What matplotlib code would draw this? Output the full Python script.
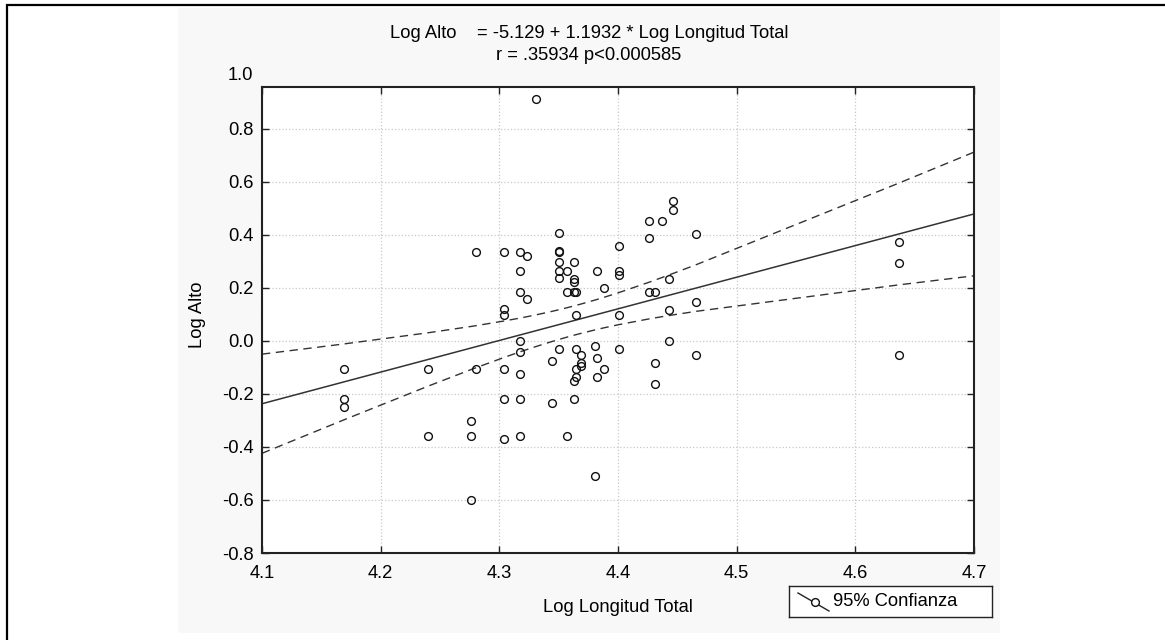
import matplotlib
matplotlib.use("Agg")
import matplotlib.pyplot as plt
import numpy as np
from matplotlib.patches import Rectangle

plt.rcParams['font.family'] = ['Liberation Sans', 'DejaVu Sans']

# Log Longitud Total / Log Alto
log_longitud = [4.169, 4.169, 4.169, 4.240, 4.240, 4.276, 4.276, 4.276, 4.280, 4.280,
                4.304, 4.304, 4.304, 4.304, 4.304, 4.304, 4.317, 4.317, 4.317, 4.317,
                4.317, 4.317, 4.317, 4.317, 4.323, 4.323, 4.331, 4.344, 4.344, 4.350,
                4.350, 4.350, 4.350, 4.350, 4.350, 4.350, 4.357, 4.357, 4.357, 4.363,
                4.363, 4.363, 4.363, 4.363, 4.363, 4.365, 4.365, 4.365, 4.365, 4.365,
                4.369, 4.369, 4.369, 4.381, 4.381, 4.382, 4.382, 4.382, 4.388, 4.388,
                4.401, 4.401, 4.401, 4.401, 4.401, 4.426, 4.426, 4.426, 4.431, 4.431,
                4.431, 4.437, 4.443, 4.443, 4.443, 4.446, 4.446, 4.466, 4.466, 4.466,
                4.637, 4.637, 4.637]
log_alto = [-0.104, -0.220, -0.248, -0.104, -0.357, -0.301, -0.357, -0.600, 0.337, -0.104,
            0.337, 0.122, 0.096, -0.106, -0.220, -0.371, 0.337, 0.264, 0.185, 0.000,
            -0.043, -0.126, -0.220, -0.357, 0.322, 0.158, 0.914, -0.074, -0.235, 0.406,
            0.337, 0.340, 0.296, 0.264, 0.236, -0.031, 0.264, 0.185, -0.357, 0.296,
            0.234, 0.224, 0.185, -0.152, -0.220, 0.185, 0.096, -0.031, -0.106, -0.137,
            -0.052, -0.084, -0.093, -0.020, -0.509, 0.264, -0.063, -0.137, 0.201, -0.106,
            0.358, 0.264, 0.248, 0.096, -0.031, 0.452, 0.390, 0.185, 0.185, -0.084,
            -0.162, 0.452, 0.233, 0.116, 0.000, 0.528, 0.494, 0.405, 0.147, -0.052,
            0.374, 0.294, -0.053]

intercept = -5.129
slope = 1.1932
x_ticks = [4.1, 4.2, 4.3, 4.4, 4.5, 4.6, 4.7]
y_ticks = [-0.8, -0.6, -0.4, -0.2, 0.0, 0.2, 0.4, 0.6, 0.8]

x = np.array(log_longitud)
y = np.array(log_alto)

# 95% band for the mean, evaluated at the data x values (gives the kinks)
n = len(x)
xm = x.mean()
sxx = ((x - xm) ** 2).sum()
s = np.sqrt(((y - (intercept + slope * x)) ** 2).sum() / (n - 2))
tval = 1.99
xb = np.concatenate([[4.1], np.unique(x), [4.7]])
fit = intercept + slope * xb
half = tval * s * np.sqrt(1.0 / n + (xb - xm) ** 2 / sxx)

W, H = 1165, 640
FS = 13.2
fig = plt.figure(figsize=(W / 100, H / 100), dpi=100)
fig.patch.set_facecolor('white')

# outer frame and grey panel, kept behind the axes
fig.patches.append(Rectangle((7 / W, -0.1), 1.2, 1 - 5 / H + 0.1, transform=fig.transFigure,
                             fill=False, edgecolor='black', linewidth=1.6, zorder=-10))
fig.patches.append(Rectangle((178 / W, 1 - 633 / H), (1000 - 178) / W, (633 - 8) / H,
                             transform=fig.transFigure, facecolor='#f8f8f8',
                             edgecolor='none', zorder=-10))

ax = fig.add_axes([262 / W, 1 - 553 / H, (974 - 262) / W, (553 - 87) / H])
ax.set_facecolor('white')

ax.plot(xb, fit, color='#333333', lw=1.1)
ax.plot(xb, fit + half, color='#333333', lw=1.0, ls=(0, (6, 4)))
ax.plot(xb, fit - half, color='#333333', lw=1.0, ls=(0, (6, 4)))
ax.plot(x, y, 'o', mfc='none', mec='#111111', ms=5.6, mew=1.0)

ax.set_xlim(4.1, 4.7)
ax.set_ylim(-0.8, 0.958)
ax.set_xticks(x_ticks)
ax.set_yticks(y_ticks)
ax.set_xticklabels([f"{v:.1f}" for v in x_ticks])
ax.set_yticklabels([f"{v:.1f}" for v in y_ticks])
ax.text(-0.012, 1.0, "1.0", transform=ax.get_yaxis_transform(), ha='right', va='center',
        fontsize=FS, clip_on=False)
ax.tick_params(direction='in', length=5, width=1, labelsize=FS,
               top=True, right=True, color='#222222')
ax.tick_params(axis='x', pad=9)
ax.tick_params(axis='y', pad=6)
ax.grid(True, color='#c8c8c8', ls=':', lw=0.9)
for sp in ax.spines.values():
    sp.set_linewidth(1.5)
    sp.set_color('#222222')

ax.set_xlabel("Log Longitud Total", fontsize=FS)
ax.xaxis.label.set_va('center')
ax.xaxis.set_label_coords(0.5, (553 - 607) / 466)
ax.set_ylabel("Log Alto", fontsize=FS)
ax.yaxis.label.set_va('center')
ax.yaxis.set_label_coords((197 - 262) / 712, (553 - 315) / 466)

fig.text(589 / W, 1 - 33 / H, "Log Alto    = -5.129 + 1.1932 * Log Longitud Total",
         ha='center', va='center', fontsize=FS)
fig.text(589 / W, 1 - 55 / H, "r = .35934 p<0.000585", ha='center', va='center',
         fontsize=FS)

# legend box below the plot, right side
lg = fig.add_axes([789 / W, 1 - 617 / H, (992 - 789) / W, (617 - 586) / H])
lg.set_xlim(0, 203)
lg.set_ylim(31, 0)
lg.set_xticks([])
lg.set_yticks([])
for sp in lg.spines.values():
    sp.set_linewidth(1.0)
    sp.set_color('#222222')
lg.set_facecolor('white')
lg.plot([9, 40], [7, 25], color='#222222', lw=1.0)
lg.plot([26], [16], 'o', mfc='white', mec='#111111', ms=5.6, mew=1.0)
lg.text(44, 16, "95% Confianza", ha='left', va='center', fontsize=FS)

fig.savefig("out.png", dpi=100)
